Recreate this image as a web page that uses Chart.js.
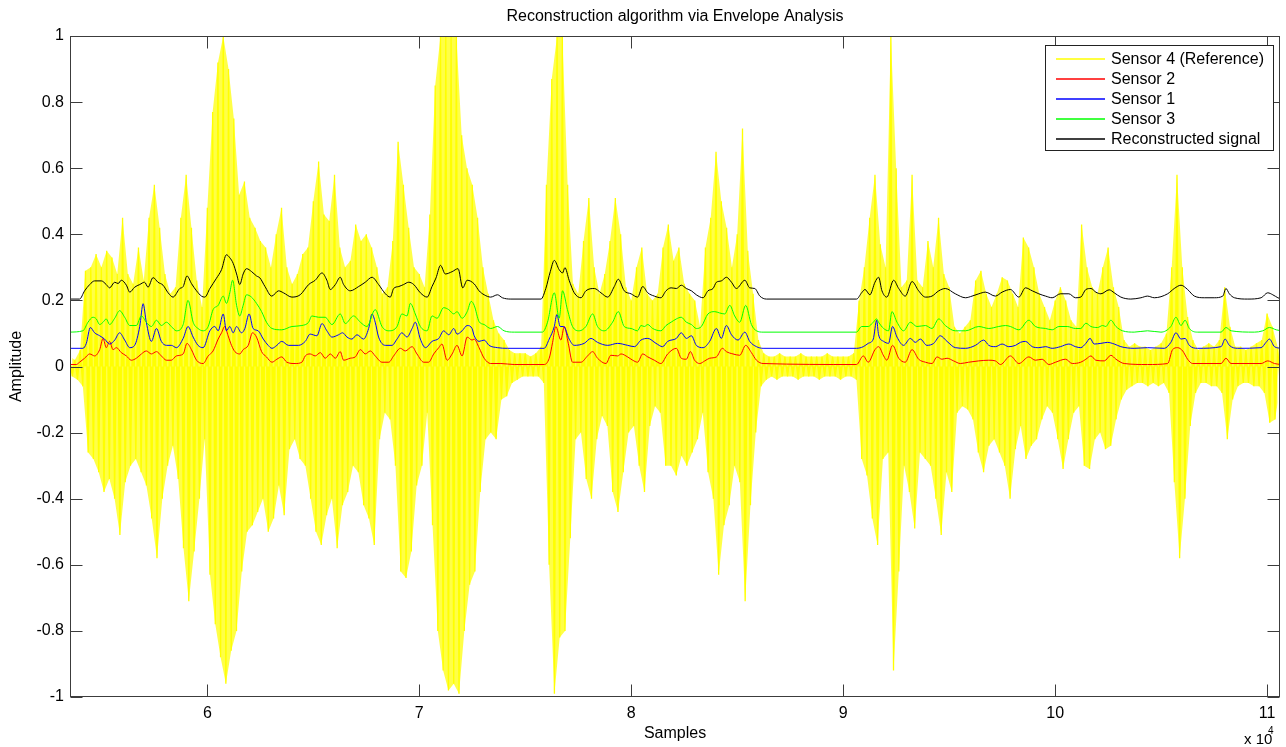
<!DOCTYPE html>
<html>
<head>
<meta charset="utf-8">
<title>Reconstruction algorithm via Envelope Analysis</title>
<script src="https://cdn.jsdelivr.net/npm/chart.js"></script>
<style>
  html, body { margin: 0; padding: 0; background: #fff; }
  canvas { display: block; }
</style>
</head>
<body>
<canvas id="myChart" width="1286" height="747"></canvas>
<script>
const FONT = "'Liberation Sans', Arial, Helvetica, sans-serif";

// x axis ticks (samples) and y axis ticks (amplitude)
const xTicks = [60000, 70000, 80000, 90000, 100000, 110000];
const yTicks = [-1, -0.8, -0.6, -0.4, -0.2, 0, 0.2, 0.4, 0.6, 0.8, 1];

// Sensor 4: local max / min of the raw signal, one pair every 250 samples from 53500
const sampleStart = 53500;
const sampleStep = 250;
const sensor4Upper = [
  0.03, 0.02, 0.05, 0.29, 0.30, 0.34, 0.30, 0.35, 0.33, 0.28, 0.45, 0.28, 0.25, 0.36, 0.26, 0.45, 0.55, 0.42, 0.28, 0.22,
  0.24, 0.45, 0.58, 0.42, 0.26, 0.18, 0.48, 0.77, 0.92, 1.0, 0.90, 0.75, 0.52, 0.56, 0.45, 0.42, 0.38, 0.36, 0.30,
  0.40, 0.48, 0.30, 0.25, 0.28, 0.34, 0.36, 0.50, 0.62, 0.46, 0.44, 0.58, 0.36, 0.30, 0.32, 0.43, 0.38, 0.40, 0.36, 0.30,
  0.22, 0.24, 0.38, 0.68, 0.55, 0.42, 0.30, 0.28, 0.24, 0.46, 0.85, 1.0, 1.0, 1.0, 1.0, 0.70, 0.60, 0.55,
  0.45, 0.30, 0.22, 0.14, 0.10, 0.08, 0.05, 0.04, 0.04, 0.04, 0.03, 0.04, 0.06, 0.55, 0.87, 1.0, 1.0, 0.55, 0.25, 0.22,
  0.38, 0.51, 0.30, 0.22, 0.28, 0.38, 0.51, 0.40, 0.24, 0.20, 0.30, 0.36, 0.22, 0.20, 0.22, 0.36, 0.43, 0.32,
  0.36, 0.25, 0.22, 0.20, 0.12, 0.36, 0.45, 0.65, 0.50, 0.42, 0.30, 0.40, 0.72, 0.35, 0.22, 0.08, 0.04,
  0.03, 0.03, 0.04, 0.03, 0.03, 0.03, 0.04, 0.03, 0.03, 0.03, 0.03, 0.04, 0.03, 0.03, 0.03, 0.03, 0.04,
  0.20, 0.30, 0.45, 0.58,
  0.37, 0.30, 1.0, 0.60, 0.24, 0.26, 0.58, 0.26, 0.24, 0.38, 0.30, 0.45, 0.28, 0.24, 0.12, 0.10, 0.12, 0.14, 0.26, 0.29,
  0.22, 0.18, 0.22, 0.27, 0.26, 0.22, 0.18, 0.39, 0.36, 0.30, 0.22, 0.18, 0.14, 0.20, 0.24, 0.20, 0.14, 0.12,
  0.43, 0.30, 0.24, 0.22, 0.30, 0.36, 0.24, 0.18, 0.08, 0.06, 0.07, 0.06, 0.06, 0.05, 0.06, 0.07, 0.10, 0.30, 0.58, 0.30,
  0.15, 0.08, 0.05, 0.06, 0.07, 0.06, 0.08, 0.24, 0.12, 0.06, 0.06, 0.05, 0.06, 0.07, 0.08, 0.16, 0.12, 0.06
];
const sensor4Lower = [
  -0.03, -0.04, -0.06, -0.26, -0.28, -0.32, -0.38, -0.34, -0.40, -0.51, -0.35, -0.30, -0.28, -0.32, -0.36, -0.46, -0.58, -0.40, -0.30, -0.24,
  -0.34, -0.55, -0.71, -0.56, -0.40, -0.22, -0.63, -0.78, -0.88, -0.96, -0.86, -0.80, -0.62, -0.50, -0.48, -0.44, -0.40, -0.50, -0.46,
  -0.36, -0.45, -0.25, -0.22, -0.28, -0.30, -0.40, -0.50, -0.54, -0.45, -0.40, -0.55, -0.42, -0.38, -0.30, -0.32, -0.42, -0.46, -0.54, -0.22,
  -0.14, -0.16, -0.30, -0.62, -0.64, -0.56, -0.36, -0.30, -0.14, -0.48, -0.80, -0.92, -0.98, -0.96, -0.99, -0.80, -0.66, -0.62,
  -0.38, -0.22, -0.20, -0.22, -0.10, -0.09, -0.05, -0.04, -0.03, -0.03, -0.03, -0.03, -0.05, -0.60, -0.99, -0.82, -0.80, -0.52, -0.22, -0.20,
  -0.34, -0.40, -0.22, -0.15, -0.18, -0.38, -0.44, -0.32, -0.20, -0.18, -0.30, -0.38, -0.18, -0.12, -0.14, -0.30, -0.30, -0.33,
  -0.27, -0.30, -0.26, -0.22, -0.14, -0.32, -0.40, -0.63, -0.48, -0.42, -0.30, -0.35, -0.71, -0.42, -0.20, -0.06, -0.04,
  -0.03, -0.04, -0.03, -0.03, -0.03, -0.04, -0.03, -0.03, -0.03, -0.04, -0.03, -0.03, -0.03, -0.04, -0.03, -0.03, -0.04,
  -0.28, -0.33, -0.46, -0.54,
  -0.28, -0.26, -0.92, -0.62, -0.30, -0.38, -0.49, -0.26, -0.28, -0.30, -0.40, -0.51, -0.32, -0.38, -0.14, -0.12, -0.13, -0.16, -0.26, -0.32,
  -0.24, -0.22, -0.26, -0.30, -0.40, -0.25, -0.18, -0.28, -0.24, -0.22, -0.16, -0.12, -0.14, -0.22, -0.31, -0.22, -0.14, -0.12,
  -0.30, -0.31, -0.22, -0.20, -0.25, -0.24, -0.16, -0.10, -0.07, -0.06, -0.05, -0.05, -0.06, -0.05, -0.06, -0.05, -0.08, -0.35, -0.58, -0.40,
  -0.18, -0.08, -0.05, -0.05, -0.06, -0.06, -0.08, -0.22, -0.10, -0.06, -0.05, -0.05, -0.06, -0.06, -0.08, -0.17, -0.16, -0.06
];

// envelopes: [sample, amplitude]
const sensor2 = [
  [53500,0.006],[53820,0.006],[53970,0.013],[54210,0.025],[54450,0.038],[54680,0.032],[54920,0.051],[55080,0.085],[55230,0.057],[55390,0.076],
  [55550,0.051],[55710,0.057],[55940,0.042],[56180,0.032],[56410,0.019],[56650,0.025],[56890,0.038],[57120,0.047],[57360,0.038],[57600,0.045],
  [57830,0.032],[58070,0.019],[58300,0.019],[58540,0.032],[58860,0.038],[59040,0.07],[59250,0.051],[59490,0.019],[59800,0.009],[60040,0.032],
  [60270,0.047],[60510,0.083],[60670,0.102],[60820,0.121],[60980,0.093],[61140,0.064],[61300,0.045],[61530,0.038],[61690,0.051],[61930,0.064],
  [62130,0.102],[62320,0.089],[62560,0.045],[62790,0.029],[63050,0.013],
  [63280,0.022],[63510,0.029],[63750,0.013],[64140,0.009],[64460,0.013],[64620,0.032],[64850,0.038],[65090,0.032],[65330,0.042],[65560,0.025],
  [65800,0.038],[66040,0.025],[66270,0.045],[66430,0.019],[66740,0.025],[66980,0.029],[67220,0.051],[67450,0.038],[67690,0.047],[67920,0.032],
  [68240,0.013],[68560,0.013],[68790,0.032],[69110,0.055],[69340,0.047],[69660,0.06],[69890,0.038],[70210,0.013],[70440,0.013],[70680,0.038],
  [70920,0.057],[71070,0.068],[71310,0.019],[71550,0.038],[71780,0.064],[72020,0.032],[72260,0.089],[72490,0.08],
  [72590,0.083],[72820,0.057],[73060,0.025],[73370,0.009],[73850,0.009],[74480,0.006],[75890,0.006],[76130,0.025],[76290,0.073],[76440,0.121],
  [76680,0.08],[76840,0.121],[77030,0.07],[77230,0.013],[77630,0.013],[77940,0.032],[78180,0.045],[78410,0.025],[78810,0.009],[79040,0.034],
  [79360,0.032],[79520,0.038],[79830,0.029],[80070,0.019],[80300,0.013],[80540,0.038],[80780,0.029],[81090,0.019],[81400,0.009],[81720,0.038],
  [82130,0.055],
  [82360,0.025],[82600,0.022],[82790,0.045],[82990,0.019],[83230,0.009],[83470,0.017],[83700,0.025],[84020,0.029],[84300,0.055],[84490,0.045],
  [84800,0.038],[85120,0.034],[85400,0.064],[85670,0.042],[85910,0.019],[86220,0.009],[90630,0.006],[90950,0.032],[91180,0.013],[91500,0.051],
  [91670,0.06],
  [91910,0.032],[92060,0.019],[92330,0.064],[92620,0.025],[92930,0.013],[93250,0.051],[93560,0.022],[93880,0.013],[94190,0.009],[94430,0.029],
  [94660,0.022],[94900,0.025],[95210,0.017],[95530,0.009],[95920,0.013],[96400,0.017],[96870,0.019],[97180,0.017],[97420,0.006],[97890,0.032],
  [98290,0.009],[98760,0.029],[99070,0.019],[99390,0.022],[99700,0.006],[100020,0.013],[100490,0.022],[100810,0.009],[101210,0.013],
  [101450,0.022],[101690,0.032],[101920,0.019],[102320,0.017],[102630,0.034],[102870,0.022],[103260,0.009],[104360,0.006],[105310,0.009],[105540,0.051],
  [105780,0.057],[106020,0.047],[106250,0.022],[106490,0.009],[107830,0.009],[108060,0.025],[108300,0.009],[109720,0.009],[110030,0.017],[110350,0.009],
  [110660,0.006]
];

const sensor1 = [
  [53500,0.055],[54130,0.055],[54290,0.07],[54480,0.118],[54680,0.102],[54920,0.093],[55150,0.083],[55390,0.068],[55630,0.08],[55860,0.102],
  [56100,0.08],[56340,0.057],[56570,0.064],[56810,0.121],[56970,0.19],[57120,0.134],[57360,0.076],[57600,0.115],[57830,0.076],[58070,0.064],
  [58300,0.064],[58540,0.057],[58860,0.085],[59090,0.121],[59330,0.089],[59560,0.064],[59800,0.057],[60120,0.108],[60350,0.121],[60510,0.108],
  [60750,0.159],[60900,0.108],[61060,0.121],[61220,0.102],[61380,0.121],[61610,0.102],[61770,0.115],[61970,0.159],[62160,0.115],[62400,0.108],
  [62640,0.083],[62870,0.064],[63050,0.055],
  [63280,0.064],[63510,0.076],[63830,0.064],[64300,0.064],[64620,0.076],[64850,0.098],[65170,0.093],[65410,0.13],[65640,0.108],[65880,0.089],
  [66190,0.096],[66380,0.102],[66590,0.089],[66820,0.083],[67060,0.096],[67370,0.083],[67610,0.115],[67770,0.159],[67920,0.134],[68080,0.089],
  [68400,0.064],[68710,0.064],[68950,0.083],[69180,0.102],[69420,0.089],[69660,0.115],[69810,0.134],[70050,0.083],[70290,0.057],[70600,0.076],
  [70920,0.085],[71150,0.108],[71390,0.096],[71630,0.115],[71780,0.098],[72020,0.108],[72260,0.124],[72490,0.115],
  [72590,0.093],[72820,0.076],[73060,0.08],[73290,0.064],[73690,0.057],[74160,0.055],[75890,0.055],[76130,0.083],[76370,0.121],[76490,0.157],
  [76650,0.121],[76810,0.121],[77070,0.083],[77310,0.064],[77780,0.07],[78100,0.085],[78410,0.073],[78890,0.064],[79360,0.07],[79830,0.064],
  [80150,0.06],[80460,0.08],[80780,0.085],[81170,0.07],[81480,0.06],[81720,0.076],[82130,0.085],
  [82360,0.102],[82600,0.085],[82840,0.093],[83070,0.064],[83390,0.057],[83700,0.076],[84020,0.115],[84250,0.085],[84490,0.124],[84730,0.096],
  [85040,0.08],[85360,0.104],[85590,0.076],[85910,0.06],[86220,0.055],[90630,0.055],[90950,0.06],[91180,0.07],[91420,0.083],[91580,0.14],
  [91670,0.096],[91910,0.076],[92140,0.07],[92330,0.121],[92540,0.089],[92850,0.064],[93170,0.085],[93400,0.073],[93640,0.083],[93950,0.064],
  [94270,0.07],[94580,0.093],[94900,0.076],[95290,0.057],[95770,0.055],[96240,0.064],[96630,0.08],[96870,0.064],[97180,0.06],[97500,0.068],
  [97810,0.06],[98130,0.064],[98360,0.073],[98600,0.076],[98920,0.06],[99230,0.057],[99550,0.06],[99860,0.055],[100250,0.06],[100650,0.068],
  [100960,0.06],[101210,0.057],
  [101450,0.07],[101650,0.085],[101840,0.068],[102160,0.07],[102470,0.073],[102790,0.068],[103100,0.06],[103730,0.055],[104360,0.057],[105150,0.055],
  [105460,0.073],[105700,0.102],[105940,0.083],[106130,0.085],[106330,0.064],[106720,0.055],[107830,0.06],[108020,0.083],[108220,0.064],[108610,0.055],
  [109720,0.057],[109950,0.073],[110110,0.083],[110350,0.06],[110660,0.055]
];

const sensor3 = [
  [53500,0.104],[54130,0.108],[54370,0.134],[54600,0.149],[54760,0.144],[54920,0.127],[55080,0.134],[55230,0.144],[55390,0.127],[55630,0.146],
  [55860,0.169],[56100,0.149],[56340,0.124],[56650,0.124],[56890,0.153],[57120,0.134],[57360,0.121],[57600,0.14],[57830,0.124],[58070,0.134],
  [58300,0.121],[58540,0.108],[58860,0.127],[59090,0.2],[59330,0.134],[59560,0.115],[59800,0.108],[60040,0.121],[60270,0.172],[60510,0.185],
  [60750,0.213],[60900,0.191],[61060,0.223],[61190,0.261],[61380,0.185],[61530,0.153],[61690,0.185],[61850,0.217],[62080,0.21],[62320,0.191],
  [62560,0.166],[62790,0.134],[63050,0.115],
  [63510,0.111],[63990,0.121],[64460,0.124],[64780,0.134],[64930,0.153],[65250,0.149],[65560,0.149],[65880,0.127],[66270,0.159],[66510,0.13],
  [66900,0.153],[67220,0.134],[67530,0.121],[67920,0.172],[68240,0.121],[68560,0.108],[68950,0.121],[69180,0.159],[69420,0.153],[69580,0.191],
  [69810,0.159],[70050,0.121],[70370,0.108],[70600,0.153],[70840,0.146],[71150,0.178],[71390,0.172],[71630,0.159],[71780,0.166],[72020,0.146],
  [72260,0.166],[72450,0.197],[72590,0.185],
  [72820,0.136],[73060,0.127],[73370,0.115],[73690,0.121],[74000,0.108],[74480,0.104],[75810,0.104],[76050,0.134],[76370,0.223],[76600,0.146],
  [76760,0.229],[76990,0.172],[77230,0.121],[77550,0.108],[77860,0.121],[78180,0.159],[78410,0.121],[78730,0.108],[79120,0.134],[79390,0.166],
  [79670,0.121],[79990,0.115],[80300,0.108],[80460,0.124],[80620,0.121],[80780,0.127],[81010,0.115],[81400,0.108],[81640,0.124],[81880,0.134],
  [82130,0.144],
  [82360,0.149],[82600,0.134],[82840,0.127],[83070,0.115],[83310,0.121],[83620,0.159],[83940,0.166],[84170,0.162],[84410,0.159],[84650,0.185],
  [84880,0.153],[85120,0.134],[85400,0.185],[85670,0.127],[85910,0.108],[86220,0.104],[90630,0.104],[90870,0.121],[91180,0.121],[91420,0.134],
  [91580,0.144],
  [91670,0.134],[91910,0.115],[92140,0.108],[92300,0.166],[92540,0.134],[92850,0.108],[93170,0.134],[93480,0.121],[93880,0.124],[94190,0.115],
  [94510,0.144],[94820,0.124],[95290,0.108],[95770,0.108],[96400,0.121],[96870,0.115],[97340,0.121],[97660,0.124],[97890,0.121],[98290,0.111],
  [98760,0.14],[99070,0.121],[99550,0.115],[99860,0.111],[100180,0.121],[100570,0.121],[100960,0.115],[101210,0.115],
  [101450,0.131],[101690,0.121],[102000,0.118],[102240,0.124],[102390,0.121],[102630,0.14],[102870,0.121],[103180,0.108],[103730,0.104],[104360,0.108],
  [104990,0.104],[105460,0.121],[105700,0.149],[105940,0.124],[106130,0.14],[106330,0.115],[106720,0.104],[107830,0.104],[108060,0.118],[108300,0.108],
  [109400,0.104],[109800,0.108],[110110,0.118],[110430,0.111],[110660,0.108]
];

const reconstructed = [
  [53500,0.204],[53970,0.204],[54210,0.229],[54450,0.248],[54680,0.259],[55000,0.259],[55230,0.248],[55390,0.238],[55630,0.255],[55790,0.251],
  [55940,0.261],[56180,0.246],[56340,0.225],[56570,0.24],[56810,0.248],[57040,0.255],[57200,0.24],[57440,0.269],[57670,0.255],[57910,0.246],
  [58150,0.223],[58380,0.21],[58700,0.236],[58860,0.242],[59040,0.274],[59250,0.251],[59490,0.229],[59720,0.213],[59880,0.21],[60120,0.236],
  [60430,0.267],[60670,0.293],[60900,0.338],[61060,0.329],[61220,0.312],[61380,0.28],[61530,0.248],[61690,0.28],[61850,0.296],[62090,0.287],
  [62320,0.274],[62480,0.268],[62720,0.242],
  [63040,0.213],[63360,0.229],[63590,0.223],[63990,0.21],[64380,0.217],[64780,0.248],[65090,0.261],[65410,0.283],[65640,0.261],[65800,0.233],
  [66040,0.248],[66270,0.27],[66430,0.248],[66740,0.229],[67140,0.242],[67450,0.255],[67770,0.27],[68080,0.248],[68400,0.22],[68630,0.21],
  [68790,0.236],[69030,0.242],[69260,0.248],[69500,0.255],[69740,0.248],[70050,0.223],[70370,0.21],[70600,0.242],[70790,0.268],[71000,0.306],
  [71230,0.28],[71550,0.287],[71830,0.296],[72050,0.238],[72260,0.261],[72590,0.25],
  [72820,0.229],[73060,0.217],[73370,0.21],[73690,0.217],[73920,0.208],[74320,0.204],[75740,0.204],[75970,0.236],[76180,0.287],[76370,0.321],
  [76600,0.293],[76760,0.283],[76870,0.299],[77070,0.261],[77310,0.223],[77630,0.208],[77860,0.229],[78260,0.236],[78570,0.223],[78890,0.21],
  [79200,0.242],[79390,0.264],[79670,0.229],[79990,0.22],[80300,0.21],[80540,0.242],[80780,0.223],[81090,0.213],[81400,0.208],[81640,0.229],
  [81880,0.238],[82130,0.236],
  [82360,0.246],[82600,0.236],[82840,0.229],[83070,0.217],[83390,0.208],[83620,0.229],[83860,0.236],[84020,0.255],[84250,0.259],[84490,0.27],
  [84730,0.255],[84960,0.236],[85360,0.261],[85590,0.238],[85830,0.236],[86070,0.213],[86380,0.204],[90630,0.204],[90870,0.223],[91030,0.233],
  [91260,0.217],[91500,0.255],[91670,0.27],
  [91830,0.229],[92060,0.21],[92380,0.261],[92620,0.236],[92930,0.213],[93250,0.257],[93560,0.229],[93880,0.21],[94190,0.213],[94510,0.229],
  [94820,0.236],[95290,0.22],[95770,0.208],[96080,0.213],[96400,0.22],[96710,0.225],[97180,0.213],[97500,0.225],[97890,0.233],[98290,0.21],
  [98600,0.238],[98920,0.229],[99230,0.22],[99550,0.213],[99860,0.208],[100250,0.22],[100650,0.22],[100960,0.208],[101210,0.21],
  [101450,0.233],[101690,0.236],[101920,0.225],[102160,0.22],[102550,0.232],[102790,0.223],[103100,0.21],[103570,0.204],[104050,0.208],[104360,0.213],
  [104680,0.208],[105310,0.22],[105620,0.236],[105940,0.246],[106250,0.233],[106570,0.213],[107040,0.208],[107510,0.208],[107910,0.213],[108060,0.236],
  [108220,0.22],[108460,0.208],[109090,0.204],[109720,0.208],[110030,0.223],[110270,0.217],[110510,0.208],[110660,0.204]
];

// raw trace: zig-zag between peaks and troughs, plus a light band between them
const sensor4Trace = [];
sensor4Upper.forEach((v, i) => {
  sensor4Trace.push({x: sampleStart + i * sampleStep, y: v});
  sensor4Trace.push({x: sampleStart + i * sampleStep + sampleStep / 2, y: sensor4Lower[i]});
});
const sensor4Peaks = sensor4Upper.map((v, i) => ({x: sampleStart + i * sampleStep, y: v}));
const sensor4Troughs = sensor4Lower.map((v, i) => ({x: sampleStart + i * sampleStep + sampleStep / 2, y: v}));

const toXY = arr => arr.map(([x, y]) => ({x, y}));

function envelope(label, data, color, order)
{
  return {
    label: label,
    data: toXY(data),
    borderColor: color,
    backgroundColor: color,
    borderWidth: 1,
    pointRadius: 0,
    cubicInterpolationMode: "monotone",
    fill: false,
    order: order,
  };
}

// MATLAB style box, inner ticks, legend and texts
const matlabLook = {
  id: "matlabLook",
  afterDatasetsDraw(chart)
  {
    const {ctx, chartArea: a, scales} = chart;
    const tick = 12;
    ctx.save();
    ctx.strokeStyle = "#3c3c3c";
    ctx.lineWidth = 1;
    const L = Math.round(a.left) + 0.5, R = Math.round(a.right) - 0.5;
    const T = Math.round(a.top) + 0.5, B = Math.round(a.bottom) - 0.5;
    ctx.strokeRect(L, T, R - L, B - T);
    ctx.beginPath();
    xTicks.forEach(v => {
      const px = Math.round(scales.x.getPixelForValue(v)) + 0.5;
      ctx.moveTo(px, B); ctx.lineTo(px, B - tick);
      ctx.moveTo(px, T); ctx.lineTo(px, T + tick);
    });
    yTicks.forEach(v => {
      const py = Math.round(scales.y.getPixelForValue(v)) + 0.5;
      ctx.moveTo(L, py); ctx.lineTo(L + tick, py);
      ctx.moveTo(R, py); ctx.lineTo(R - tick, py);
    });
    ctx.stroke();
    ctx.restore();
  },
  afterDraw(chart)
  {
    const {ctx, chartArea: a} = chart;
    const cx = (a.left + a.right) / 2;
    ctx.save();
    ctx.fillStyle = "#000";
    ctx.textBaseline = "middle";
    ctx.textAlign = "center";
    ctx.font = "16px " + FONT;
    ctx.fillText("Reconstruction algorithm via Envelope Analysis", cx, 17);
    ctx.fillText("Samples", cx, 734);
    ctx.save();
    ctx.translate(17, (a.top + a.bottom) / 2);
    ctx.rotate(-Math.PI / 2);
    ctx.fillText("Amplitude", 0, 0);
    ctx.restore();

    // exponent of the x axis
    ctx.textAlign = "left";
    ctx.textBaseline = "alphabetic";
    ctx.font = "15px " + FONT;
    ctx.fillText("x 10", a.right - 36, 744);
    ctx.font = "10px " + FONT;
    ctx.fillText("4", a.right - 12, 734);

    // legend box in the upper right corner
    const items = chart.data.datasets.filter(ds => !ds.noLegend);
    const lw = 228, lh = 105;
    const lx = Math.round(a.right) - 7 - lw, ly = Math.round(a.top) + 9;
    ctx.fillStyle = "#fff";
    ctx.fillRect(lx, ly, lw, lh);
    ctx.strokeStyle = "#222";
    ctx.lineWidth = 1;
    ctx.strokeRect(lx + 0.5, ly + 0.5, lw, lh);
    ctx.font = "16px " + FONT;
    ctx.textBaseline = "middle";
    items.forEach((ds, i) => {
      const yy = ly + 14 + i * 20;
      ctx.strokeStyle = ds.borderColor;
      ctx.lineWidth = 1.3;
      ctx.beginPath();
      ctx.moveTo(lx + 11, yy);
      ctx.lineTo(lx + 60, yy);
      ctx.stroke();
      ctx.fillStyle = "#000";
      ctx.fillText(ds.label, lx + 66, yy + 1);
    });
    ctx.restore();
  }
};

const ctx = document.getElementById("myChart");
const bandColor = "rgba(255, 255, 0, 0.72)";

new Chart(ctx, {
  type: "line",
  data: {
    datasets: [
      {
        label: "Sensor 4 (Reference)",
        data: sensor4Trace,
        borderColor: "#ffff00",
        backgroundColor: "#ffff00",
        borderWidth: 1.3,
        borderJoinStyle: "bevel",
        pointRadius: 0,
        tension: 0,
        fill: "origin",
        order: 5,
      },
      {
        label: "Sensor 4 peaks",
        noLegend: true,
        data: sensor4Peaks,
        borderColor: "rgba(0,0,0,0)",
        backgroundColor: bandColor,
        borderWidth: 0,
        pointRadius: 0,
        tension: 0,
        fill: "+1",
        order: 7,
      },
      {
        label: "Sensor 4 troughs",
        noLegend: true,
        data: sensor4Troughs,
        borderColor: "rgba(0,0,0,0)",
        backgroundColor: bandColor,
        borderWidth: 0,
        pointRadius: 0,
        tension: 0,
        fill: false,
        order: 6,
      },
      envelope("Sensor 2", sensor2, "#ff0000", 4),
      envelope("Sensor 1", sensor1, "#0000ff", 3),
      envelope("Sensor 3", sensor3, "#00ff00", 2),
      envelope("Reconstructed signal", reconstructed, "#000000", 1),
    ],
  },
  options: {
    responsive: false,
    animation: false,
    devicePixelRatio: 1,
    layout: {
      padding: {top: 36, right: 6, left: 0, bottom: 0},
    },
    plugins: {
      legend: {display: false},
      tooltip: {enabled: false},
      title: {display: false},
      filler: {propagate: false},
    },
    scales: {
      x: {
        type: "linear",
        min: 53520,
        max: 110610,
        afterBuildTicks: scale => { scale.ticks = xTicks.map(v => ({value: v})); },
        afterFit: scale => { scale.height = 50; },
        grid: {display: false, drawTicks: false},
        border: {display: false},
        ticks: {
          padding: 7,
          color: "#000",
          font: {family: FONT, size: 16},
          maxRotation: 0,
          callback: v => String(v / 10000),
        },
      },
      y: {
        type: "linear",
        min: -1,
        max: 1,
        afterBuildTicks: scale => { scale.ticks = yTicks.map(v => ({value: v})); },
        afterFit: scale => { scale.width = 70; },
        grid: {display: false, drawTicks: false},
        border: {display: false},
        ticks: {
          padding: 6,
          color: "#000",
          font: {family: FONT, size: 16},
          callback: v => String(+Number(v).toFixed(1)),
        },
      },
    },
  },
  plugins: [matlabLook],
});
</script>
</body>
</html>
